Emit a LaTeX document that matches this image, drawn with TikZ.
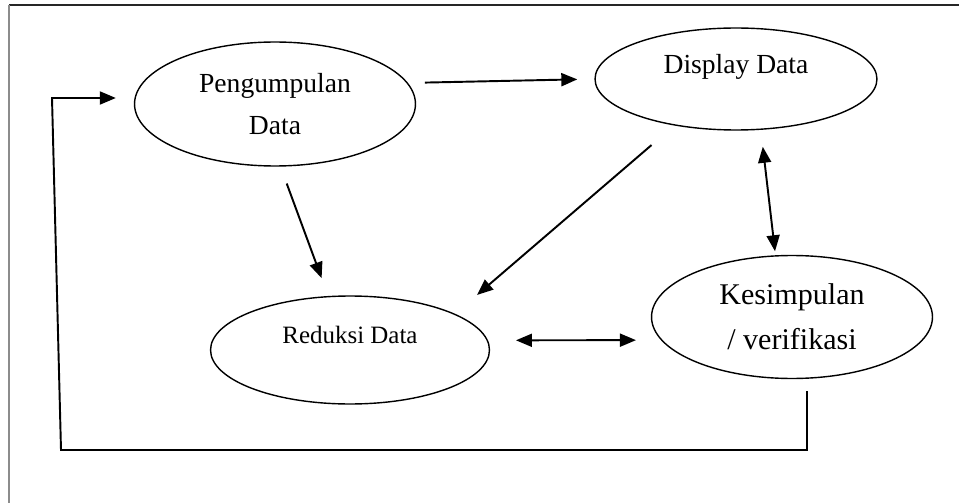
\documentclass[tikz,border=0pt]{standalone}
\usepackage{fontspec}
\setmainfont{Liberation Serif}
\usetikzlibrary{shapes.geometric,arrows.meta}

\begin{document}
\begin{tikzpicture}[x=0.02cm,y=-0.02cm,
        >={Triangle[length=0.32cm,width=0.26cm]},
        proses/.style={draw,ellipse,line width=0.8pt,inner sep=0pt,align=center},
        panah/.style={line width=1.1pt}]
        %warna
        \colorlet{bingkai}{black!45}
        \colorlet{atas}{black!85}

        \useasboundingbox (0,0) rectangle (959,503);

        % Bingkai luar
        \draw[atas,line width=1.2pt] (9,5) -- (959,5);
        \draw[bingkai,line width=0.9pt] (9,5) -- (9,503);

        % Elips proses
        \node[proses,minimum width=5.62cm,minimum height=2.48cm,font=\fontsize{15.7}{23.9}\selectfont] (peng) at (275,104) {Pengumpulan\\Data};
        \node[proses,minimum width=5.64cm,minimum height=2.04cm,
            label={[font=\fontsize{15.7}{23.9}\selectfont,yshift=0.24cm]center:Display Data}] (disp) at (736,79) {};
        \node[proses,minimum width=5.58cm,minimum height=2.16cm,
            label={[font=\fontsize{14.2}{20}\selectfont,yshift=0.3cm]center:Reduksi Data}] (red) at (350,350) {};
        \node[proses,minimum width=5.62cm,minimum height=2.46cm,font=\fontsize{17.1}{25.6}\selectfont] (kes) at (792,317) {Kesimpulan\\/ verifikasi};

        % Panah antar elips
        \draw[panah,->,shorten <=0.34cm,shorten >=0.34cm] (peng.9) -- (disp.180);
        \draw[panah,->,shorten <=0.36cm,shorten >=0.38cm] (peng.-85) -- (red.112);
        \draw[panah,->,shorten <=0.6cm,shorten >=0.58cm] (disp.217) -- (red.19);
        \draw[panah,<->,shorten <=0.34cm,shorten >=0.08cm] (disp.-64) -- (kes.105);
        \draw[panah,<->,shorten <=0.56cm,shorten >=0.5cm] (red.4) -- (kes.190);

        % Garis balik
        \coordinate (balik1) at (61,450);
        \coordinate (balik2) at (52,98);
        \draw[panah,->,shorten >=0.36cm] (kes.south) ++(15,12) |- (balik1) -- (balik2) -- (balik2 -| peng.west);
    \end{tikzpicture}
\end{document}
